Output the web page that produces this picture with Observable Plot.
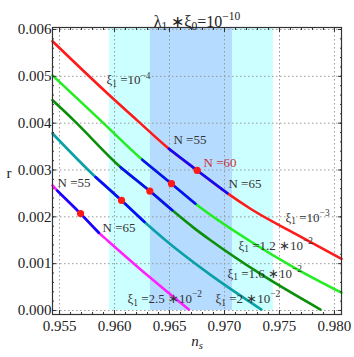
<!DOCTYPE html>
<html>
<head>
<meta charset="utf-8">
<script src="https://cdn.jsdelivr.net/npm/d3@7"></script>
<script src="https://cdn.jsdelivr.net/npm/@observablehq/plot@0.6"></script>
<style>
  html, body { margin: 0; padding: 0; background: #fff; }
  #chart svg { display: block; }
</style>
</head>
<body>
<div id="chart"></div>
<script>
// ---------- data ----------
const xTickValues = [0.955, 0.960, 0.965, 0.970, 0.975, 0.980];
const yTickValues = [0.000, 0.001, 0.002, 0.003, 0.004, 0.005, 0.006];
const xMinorTicks = [0.955,0.956,0.957,0.958,0.959,0.960,0.961,0.962,0.963,0.964,0.965,0.966,0.967,0.968,0.969,0.970,0.971,0.972,0.973,0.974,0.975,0.976,0.977,0.978,0.979,0.980];
const yMinorTicks = [0,0.0002,0.0004,0.0006,0.0008,0.001,0.0012,0.0014,0.0016,0.0018,0.002,0.0022,0.0024,0.0026,0.0028,0.003,0.0032,0.0034,0.0036,0.0038,0.004,0.0042,0.0044,0.0046,0.0048,0.005,0.0052,0.0054,0.0056,0.0058,0.006];

const xDomain = [0.95436, 0.98064];
const yDomain = [-0.0000855, 0.0060427];

// Planck bands (ns ranges)
const bandLo = [0.95955, 0.96327];
const bandHi = [0.97445, 0.97073];
const bandColors = ["#ccffff", "#b5dbff"];

// curves
const curveColors = ["#ff1a1a", "#22ee22", "#0a8f0a", "#0aa0a8", "#ff22ff"];

const redNs = [0.95436, 0.95934, 0.96206, 0.96494, 0.96752, 0.97025, 0.97236, 0.97645, 0.98064];
const redR  = [0.00575, 0.00464, 0.00406, 0.003455, 0.00299, 0.002506, 0.002173, 0.001635, 0.0011];
const redN  = [null, null, null, 55, 60, 65, null, null, null];

const lightGreenNs = [0.95436, 0.95873, 0.96252, 0.96518, 0.96736, 0.9722, 0.97645, 0.98064];
const lightGreenR  = [0.00502, 0.00406, 0.00322, 0.002707, 0.00228, 0.0015, 0.0009, 0.00038];
const lightGreenN  = [null, null, 55, 60, 65, null, null, null];

const darkGreenNs = [0.95436, 0.9563, 0.96055, 0.96321, 0.96525, 0.96718, 0.96873, 0.97327, 0.97873];
const darkGreenR  = [0.00449, 0.00406, 0.00306, 0.00255, 0.00214, 0.00177, 0.0015, 0.00078, 0.00002];
const darkGreenN  = [null, null, 55, 60, 65, null, null, null, null];

const tealNs = [0.95436, 0.95827, 0.96064, 0.96273, 0.96464, 0.96873, 0.97336];
const tealR  = [0.00378, 0.00285, 0.00235, 0.00189, 0.0015, 0.00076, 0.00002];
const tealN  = [null, 55, 60, 65, null, null, null];

const magentaNs = [0.95436, 0.95479, 0.95691, 0.95857, 0.95934, 0.96305, 0.96675];
const magentaR  = [0.00267, 0.00256, 0.00207, 0.00166, 0.0015, 0.00074, 0.00002];
const magentaN  = [null, 55, 60, 65, null, null, null];

// annotation labels
const labelText = ["ξ_1 =10^{−4}", "N =55", "N =60", "N =65", "ξ_1 =10^{−3}", "N =55", "N =65",
                   "ξ_1 =1.2 ∗10^{−2}", "ξ_1 =1.6 ∗10^{−2}", "ξ_1 =2 ∗10^{−2}", "ξ_1 =2.5 ∗10^{−2}"];
const labelNs = [0.95927, 0.96536, 0.96809, 0.97036, 0.97555, 0.95482, 0.95891, 0.97127, 0.97027, 0.96918, 0.96118];
const labelR  = [0.004915, 0.003654, 0.003162, 0.002714, 0.001987, 0.002735, 0.001774, 0.001389, 0.000791, 0.000256, 0.000256];
const labelColor = ["#333","#333","#c83232","#333","#333","#333","#333","#333","#333","#333","#333"];

const titleText = "λ_1 ∗ξ_0=10^{−10}";
const xLabel = "n_s";
const yLabel = "r";

// ---------- build tables ----------
const curveSets = [
  [redNs, redR, redN], [lightGreenNs, lightGreenR, lightGreenN],
  [darkGreenNs, darkGreenR, darkGreenN], [tealNs, tealR, tealN], [magentaNs, magentaR, magentaN]
];
const points = [];
curveSets.forEach(([ns, r, n], c) => ns.forEach((v, i) => points.push({curve: c, ns: v, r: r[i], N: n[i], i})));
const segments = [];
curveSets.forEach(([ns, r, n], c) => {
  const a = n.indexOf(55), b = n.indexOf(65);
  for (let i = a; i <= b; i++) segments.push({curve: c, ns: ns[i], r: r[i]});
});
const dots = points.filter(d => d.N === 60);
const bands = bandLo.map((lo, i) => ({lo, hi: bandHi[i], color: bandColors[i]}));
const labels = labelText.map((t, i) => ({t, ns: labelNs[i], r: labelR[i], color: labelColor[i]}));

const serif = "'Liberation Serif', 'Times New Roman', serif";
const fmt = d3.format(".3f");

const chart = Plot.plot({
  width: 354, height: 357,
  marginLeft: 52, marginRight: 13, marginTop: 27, marginBottom: 43,
  style: {fontFamily: serif, background: "#fff"},
  x: {domain: xDomain},
  y: {domain: yDomain},
  marks: [
    Plot.rect(bands, {x1: "lo", x2: "hi", y1: 0, y2: yDomain[1], fill: "color"}),
    Plot.gridX({ticks: xTickValues, stroke: "#999", strokeOpacity: 1, strokeDasharray: "1.5,2.5"}),
    Plot.gridY({ticks: yTickValues, stroke: "#999", strokeOpacity: 1, strokeDasharray: "1.5,2.5"}),
    Plot.line(points, {x: "ns", y: "r", z: "curve", stroke: d => curveColors[d.curve], strokeWidth: 2.6, curve: "monotone-x"}),
    Plot.line(segments, {x: "ns", y: "r", z: "curve", stroke: "#0a0aff", strokeWidth: 2.6, curve: "monotone-x"}),
    Plot.dot(dots, {x: "ns", y: "r", r: 3.6, fill: "#ff1a1a", stroke: null}),
    Plot.frame({stroke: "#333", strokeWidth: 1.2}),
    // inward ticks on all four sides
    Plot.axisX({anchor: "bottom", ticks: xTickValues, tickSize: -4, fill: "none", label: null, stroke: "#333"}),
    Plot.axisX({anchor: "bottom", ticks: xMinorTicks, tickSize: -2, fill: "none", label: null, stroke: "#333"}),
    Plot.axisX({anchor: "top", ticks: xTickValues, tickSize: -4, fill: "none", label: null, stroke: "#333"}),
    Plot.axisX({anchor: "top", ticks: xMinorTicks, tickSize: -2, fill: "none", label: null, stroke: "#333"}),
    Plot.axisY({anchor: "left", ticks: yTickValues, tickSize: -4, fill: "none", label: null, stroke: "#333"}),
    Plot.axisY({anchor: "left", ticks: yMinorTicks, tickSize: -2, fill: "none", label: null, stroke: "#333"}),
    Plot.axisY({anchor: "right", ticks: yTickValues, tickSize: -4, fill: "none", label: null, stroke: "#333"}),
    Plot.axisY({anchor: "right", ticks: yMinorTicks, tickSize: -2, fill: "none", label: null, stroke: "#333"}),
    // tick labels
    Plot.axisX({anchor: "bottom", ticks: xTickValues, tickSize: 0, tickPadding: 6, tickFormat: fmt, label: null, fontSize: 15, fill: "#222"}),
    Plot.axisY({anchor: "left", ticks: yTickValues, tickSize: 0, tickPadding: 1, tickFormat: fmt, label: null, fontSize: 15, fill: "#222"}),
    // annotations
    Plot.text(labels, {x: "ns", y: "r", text: "t", fill: "color", textAnchor: "start", fontSize: 13}),
    Plot.text([titleText], {text: d => d, frameAnchor: "top", dy: -12, fontSize: 16, fill: "#222"}),
    Plot.text([xLabel], {text: d => d, frameAnchor: "bottom", dy: 31, fontSize: 15, fontStyle: "italic", fill: "#222"}),
    Plot.text([yLabel], {text: d => d, frameAnchor: "left", dx: -46, dy: 2, fontSize: 15, fill: "#222"})
  ]
});
document.getElementById("chart").appendChild(chart);

// rich text: _x subscripts and ^{..} superscripts as tspans
const svgns = "http://www.w3.org/2000/svg";
d3.select(chart).selectAll("text").each(function() {
  const t = this.textContent;
  if (!/[_^]/.test(t)) return;
  const fs = parseFloat(getComputedStyle(this).fontSize) || 13;
  const parts = t.match(/_\{[^}]*\}|\^\{[^}]*\}|_.|\^.|[^_^]+/g);
  this.textContent = "";
  let shift = 0;
  for (const p of parts) {
    let kind = 0, s = p;
    if (p[0] === "_") { kind = 1; s = p[1] === "{" ? p.slice(2, -1) : p.slice(1); }
    else if (p[0] === "^") { kind = -1; s = p[1] === "{" ? p.slice(2, -1) : p.slice(1); }
    const target = kind === 1 ? 0.22 * fs : kind === -1 ? -0.42 * fs : 0;
    const ts = document.createElementNS(svgns, "tspan");
    ts.setAttribute("dy", (target - shift).toFixed(2));
    shift = target;
    if (kind) ts.setAttribute("font-size", (0.72 * fs).toFixed(1));
    ts.textContent = s;
    this.appendChild(ts);
  }
});
</script>
</body>
</html>
